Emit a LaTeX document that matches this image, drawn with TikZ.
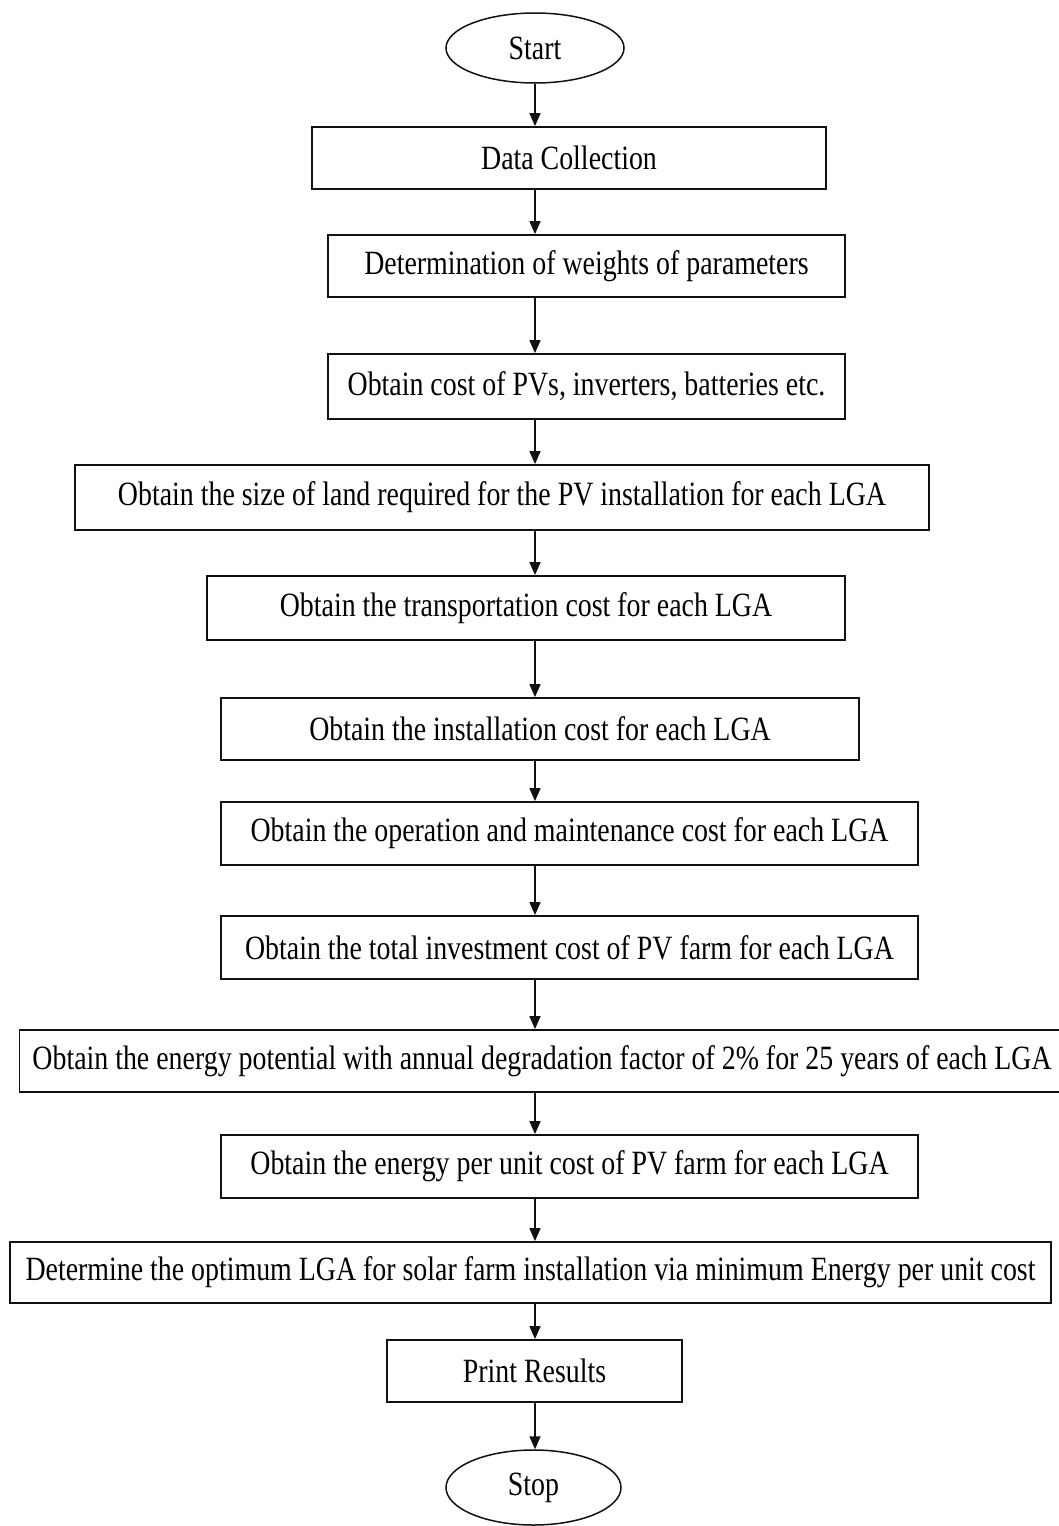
\documentclass[tikz,border=0pt]{standalone}
\usepackage{fontspec}
\setmainfont{Liberation Serif}[FakeStretch=0.82]
\usepackage{tikz}
\usetikzlibrary{arrows.meta,shapes.geometric}
\definecolor{ink}{HTML}{111111}
\tikzset{
  box/.style={draw=ink,line width=1.8pt,rectangle,inner sep=0pt,font=\fontsize{34}{40}\selectfont},
  term/.style={draw=ink,line width=1.5pt,ellipse,inner sep=0pt,font=\fontsize{34}{40}\selectfont},
  flow/.style={-{Triangle[length=13pt,width=11pt]},draw=ink,line width=1.6pt}
}
\begin{document}
\begin{tikzpicture}[x=1pt,y=-1pt]
  \useasboundingbox[fill=white] (0,0) rectangle (1059,1526);
  \node[term,minimum width=178pt,minimum height=70pt] (start) at (535,48) {Start};
  \node[box,minimum width=514pt,minimum height=62pt] (data) at (569,158) {Data Collection};
  \node[box,minimum width=517pt,minimum height=62pt] (weights) at (586.5,266) {Determination of weights of parameters};
  \node[box,minimum width=517pt,minimum height=65pt] (pvcost) at (586.5,386.5) {Obtain cost of PVs, inverters, batteries etc.};
  \node[box,minimum width=854pt,minimum height=65pt] (land) at (502,497.5) {Obtain the size of land required for the PV installation for each LGA};
  \node[box,minimum width=638pt,minimum height=64pt] (transport) at (526,608) {Obtain the transportation cost for each LGA};
  \node[box,minimum width=638pt,minimum height=62pt] (install) at (540,729) {Obtain the installation cost for each LGA};
  \node[box,minimum width=697pt,minimum height=63pt] (oandm) at (569.5,833.5) {Obtain the operation and maintenance cost for each LGA};
  \node[box,minimum width=697pt,minimum height=63pt] (invest) at (569.5,947.5) {Obtain the total investment cost of PV farm for each LGA};
  \node[box,minimum width=1045pt,minimum height=62pt] (energy) at (542,1061) {Obtain the energy potential with annual degradation factor of 2\% for 25 years of each LGA};
  \node[box,minimum width=697pt,minimum height=63pt] (unitcost) at (569.5,1166.5) {Obtain the energy per unit cost of PV farm for each LGA};
  \node[box,minimum width=1041pt,minimum height=61pt] (optimum) at (530.5,1272.5) {Determine the optimum LGA for solar farm installation via minimum Energy per unit cost};
  \node[box,minimum width=295pt,minimum height=62pt] (print) at (534.5,1371) {Print Results};
  \node[term,minimum width=175pt,minimum height=75pt] (stop) at (533.5,1487.5) {Stop};
  % arrows down the spine
  \draw[flow] (start.south) -- (start.south |- data.north);
  \draw[flow] (start.south |- data.south) -- (start.south |- weights.north);
  \draw[flow] (start.south |- weights.south) -- (start.south |- pvcost.north);
  \draw[flow] (start.south |- pvcost.south) -- (start.south |- land.north);
  \draw[flow] (start.south |- land.south) -- (start.south |- transport.north);
  \draw[flow] (start.south |- transport.south) -- (start.south |- install.north);
  \draw[flow] (start.south |- install.south) -- (start.south |- oandm.north);
  \draw[flow] (start.south |- oandm.south) -- (start.south |- invest.north);
  \draw[flow] (start.south |- invest.south) -- (start.south |- energy.north);
  \draw[flow] (start.south |- energy.south) -- (start.south |- unitcost.north);
  \draw[flow] (start.south |- unitcost.south) -- (start.south |- optimum.north);
  \draw[flow] (start.south |- optimum.south) -- (start.south |- print.north);
  \draw[flow] (start.south |- print.south) -- (start.south |- stop.north);
\end{tikzpicture}
\end{document}
